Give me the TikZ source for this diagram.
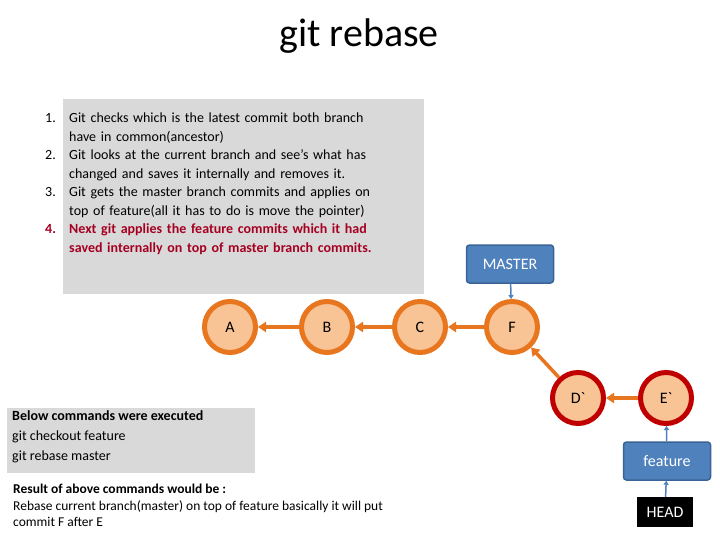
\documentclass[tikz,border=0pt]{standalone}
\usepackage{fontspec}
\setmainfont{Carlito}
\usetikzlibrary{arrows.meta}
\definecolor{cfill}{HTML}{F8C495}
\definecolor{corange}{HTML}{E8761E}
\definecolor{cred}{HTML}{C00000}
\definecolor{cblue}{HTML}{4F81BD}
\definecolor{cblued}{HTML}{3A6496}
\definecolor{cgray}{HTML}{D9D9D9}
\definecolor{ctext}{HTML}{A50021}
\newcommand{\myitem}[2]{\par\hangindent=24pt\hangafter=1\noindent\makebox[24pt][l]{#1}#2}
\begin{document}
\begin{tikzpicture}[x=1pt,y=-1pt,
  commit/.style={circle,fill=cfill,draw=corange,line width=5pt,minimum size=51pt,inner sep=0pt,font=\fontsize{16}{18}\selectfont},
  rcommit/.style={commit,draw=cred},
  oarrow/.style={-{Triangle[length=8pt,width=10pt]},corange,line width=3.5pt},
  branch/.style={rounded corners=3pt,fill=cblue,draw=cblued,line width=1.5pt,text=white,minimum width=87pt,minimum height=38pt,font=\fontsize{16}{18}\selectfont},
  barrow/.style={-{Triangle[length=4pt,width=5pt]},cblue,line width=1.5pt}]
\useasboundingbox (0,0) rectangle (720,540);
\fill[white] (0,0) rectangle (720,540);
\node (title) at (359,36) {\fontsize{40}{44}\selectfont git rebase};
\fill[cgray] (63,99) rectangle (424,294);
\node[anchor=north west,text width=340pt,inner sep=0pt,font=\fontsize{14}{18.5}\selectfont,align=left] (steps) at (45,104) {%
\myitem{1.}{Git checks which is the latest commit both branch have in common(ancestor)}
\myitem{2.}{Git looks at the current branch and see's what has changed and saves it internally and removes it.}
\myitem{3.}{Git gets the master branch commits and applies on top of feature(all it has to do is move the pointer)}
\myitem{\textcolor{ctext}{\bfseries 4.}}{\textcolor{ctext}{\bfseries Next git applies the feature commits which it had saved internally on top of master branch commits.}}\par};
\fill[cgray] (7,408) rectangle (255,473);
\node[anchor=north west,inner sep=0pt,align=left,font=\fontsize{14}{20}\selectfont] (cmds) at (12,410) {\textbf{Below commands were executed}\\git checkout feature\\git rebase master};
\node[anchor=north west,inner sep=0pt,align=left,font=\fontsize{13.5}{16.5}\selectfont] (res) at (13,484) {\textbf{Result of above commands would be :}\\Rebase current branch(master) on top of feature basically it will put\\commit F after E};
\node[commit] (A) at (230,327) {A};
\node[commit] (B) at (327,327) {B};
\node[commit] (C) at (420,327) {C};
\node[commit] (F) at (512,327) {F};
\node[rcommit] (D) at (578,398) {D\textasciigrave};
\node[rcommit] (E) at (666,398) {E\textasciigrave};
\draw[oarrow] (B) -- (A);
\draw[oarrow] (C) -- (B);
\draw[oarrow] (F) -- (C);
\draw[oarrow] (D) -- (F);
\draw[oarrow] (E) -- (D);
\node[branch] (master) at (510,264) {MASTER};
\node[branch] (feature) at (667,461) {feature};
\node[fill=black,text=white,minimum width=56pt,minimum height=30pt,inner sep=0pt,font=\fontsize{16}{18}\selectfont] (head) at (665,512) {HEAD};
\draw[barrow] (master) -- (F);
\draw[barrow] (feature) -- (E);
\draw[barrow] (head) -- (feature);
\end{tikzpicture}
\end{document}
